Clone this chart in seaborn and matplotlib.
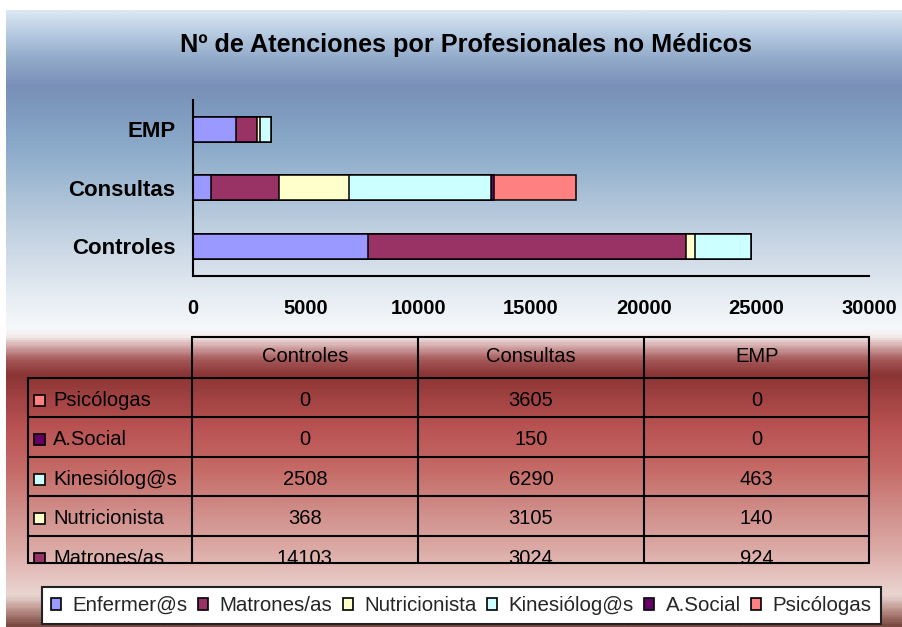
import numpy as np
import pandas as pd
import matplotlib
matplotlib.use("Agg")
import matplotlib.pyplot as plt
from matplotlib.colors import LinearSegmentedColormap
from matplotlib.patches import Patch, Rectangle
import seaborn as sns

# --- data ---
categories = ["Controles", "Consultas", "EMP"]
series_names = ["Enfermer@s", "Matrones/as", "Nutricionista", "Kinesiólog@s", "A.Social", "Psicólogas"]
enfermeras = [7790, 800, 1930]
matronas = [14103, 3024, 924]
nutricionista = [368, 3105, 140]
kinesiologos = [2508, 6290, 463]
asocial = [0, 150, 0]
psicologas = [0, 3605, 0]
series_colors = ["#9999FF", "#993366", "#FFFFCC", "#CCFFFF", "#660066", "#FF8080"]
x_ticks = [0, 5000, 10000, 15000, 20000, 25000, 30000]
bar_order = ["EMP", "Consultas", "Controles"]

values = np.array([enfermeras, matronas, nutricionista, kinesiologos, asocial, psicologas])
ends = values.cumsum(axis=0)

sns.set_theme(style="white")
plt.rcParams["font.family"] = ["Liberation Sans", "DejaVu Sans"]

W, H = 903, 627
fig = plt.figure(figsize=(W / 100, H / 100), dpi=100)
fig.patch.set_facecolor("white")

# --- background gradient (blue on top, red under the table) ---
stops_px = [10, 30, 55, 85, 110, 150, 200, 250, 300, 328, 336, 346, 360, 375,
            400, 430, 470, 510, 550, 580, 597, 612, 627]
stops_col = ["#dae6f2", "#b9cde2", "#95adcc", "#7a8fb7", "#7e9bbf", "#8daccb",
             "#adc3d8", "#ccd9e6", "#e8eef4", "#f6f8fa", "#f5eeee", "#d6acac",
             "#a55858", "#8a3434", "#a34343", "#ba5454", "#c56a66", "#d08c88",
             "#dcaaa5", "#e6c6c2", "#ead6d2", "#b99088", "#7a4a42"]
pos = [(p - stops_px[0]) / (stops_px[-1] - stops_px[0]) for p in stops_px]
bg_cmap = LinearSegmentedColormap.from_list("bg", list(zip(pos, stops_col)))
bg = fig.add_axes([6 / W, 0, (W - 6) / W, (H - 10) / H], zorder=-5)
bg.imshow(np.linspace(0, 1, 600).reshape(-1, 1), cmap=bg_cmap, aspect="auto",
          extent=(0, 1, 0, 1), interpolation="bilinear")
bg.set_axis_off()

# --- stacked bars ---
x0, x1 = 192.7, 869.3
ax = fig.add_axes([x0 / W, 1 - 275.7 / H, (x1 - x0) / W, (275.7 - 100) / H])
ax.set_facecolor("none")
for i in range(len(series_names) - 1, -1, -1):
    df = pd.DataFrame({"cat": categories, "end": ends[i]})
    sns.barplot(data=df, x="end", y="cat", order=bar_order, orient="y",
                color=series_colors[i], saturation=1, width=0.43,
                edgecolor="black", linewidth=1.1, errorbar=None, ax=ax)

ax.set_xlim(0, 30000)
ax.set_xticks(x_ticks)
ax.set_xticklabels([str(t) for t in x_ticks])
ax.set_xlabel("")
ax.set_ylabel("")
for s in ["top", "right"]:
    ax.spines[s].set_visible(False)
for s in ["left", "bottom"]:
    ax.spines[s].set_color("black")
    ax.spines[s].set_linewidth(1.5)
ax.tick_params(axis="x", direction="out", length=4, width=1.5, color="black",
               pad=12.5, labelsize=14.5, labelcolor="black")
ax.tick_params(axis="y", length=0, pad=12.5, labelsize=16, labelcolor="black")
for lab in ax.get_xticklabels() + ax.get_yticklabels():
    lab.set_fontweight("bold")

fig.text(466.5 / W, 1 - 52 / H, "Nº de Atenciones por Profesionales no Médicos",
         ha="center", va="baseline", fontsize=18.2, fontweight="bold", color="black")

# --- data table (rows in reverse series order, clipped at the bottom) ---
tx0, tx1, ty0, ty1 = 28.3, 869.3, 336.7, 563.3
tab = fig.add_axes([tx0 / W, 1 - ty1 / H, (tx1 - tx0) / W, (ty1 - ty0) / H])
tab.set_xlim(tx0, tx1)
tab.set_ylim(ty1, ty0)
tab.set_axis_off()

col_edges = [191.7, 418.0, 644.0, 869.3]
head_bottom = 377.7
row_h = 39.5
lw = 1.5
tab.plot([col_edges[0], col_edges[-1]], [ty0, ty0], color="black", lw=lw, clip_on=False)
for xe in col_edges:
    tab.plot([xe, xe], [ty0, ty1], color="black", lw=lw, clip_on=False)
tab.plot([tx0, tx0], [head_bottom, ty1], color="black", lw=lw, clip_on=False)
tab.plot([tx0, tx1], [ty1, ty1], color="black", lw=lw, clip_on=False)

for j, cat in enumerate(categories):
    cx = (col_edges[j] + col_edges[j + 1]) / 2
    tab.text(cx, (ty0 + head_bottom) / 2 - 1, cat, ha="center", va="center",
             fontsize=14.5, color="black")

row_order = list(range(len(series_names) - 1, -1, -1))
for r, si in enumerate(row_order):
    top = head_bottom + r * row_h
    if top >= ty1:
        # the last row falls outside the visible table area
        continue
    tab.plot([tx0, tx1], [top, top], color="black", lw=lw, clip_on=False)
    cy = top + row_h / 2 + 3
    tab.add_patch(Rectangle((34, cy - 5.5), 11, 11, facecolor=series_colors[si],
                            edgecolor="black", lw=1.2, clip_on=True))
    tab.text(53, cy, series_names[si], ha="left", va="center", fontsize=14.5,
             color="black", clip_on=True)
    for j in range(len(categories)):
        cx = (col_edges[j] + col_edges[j + 1]) / 2
        tab.text(cx, cy, str(values[si][j]), ha="center", va="center",
                 fontsize=14.5, color="black", clip_on=True)

# --- legend ---
handles = [Patch(facecolor=c, edgecolor="black", linewidth=1.2) for c in series_colors]
leg = fig.legend(handles, series_names, loc="upper left",
                 bbox_to_anchor=(41.7 / W, 1 - 586.7 / H), ncol=6, fontsize=14.8,
                 handlelength=0.5, handleheight=0.5, handletextpad=0.55,
                 columnspacing=0.5, borderpad=0.45, borderaxespad=0,
                 frameon=True, fancybox=False)
leg.get_frame().set_facecolor("white")
leg.get_frame().set_edgecolor("#222222")
leg.get_frame().set_linewidth(1.5)
leg.get_frame().set_alpha(1)

fig.savefig("out.png", dpi=100)
